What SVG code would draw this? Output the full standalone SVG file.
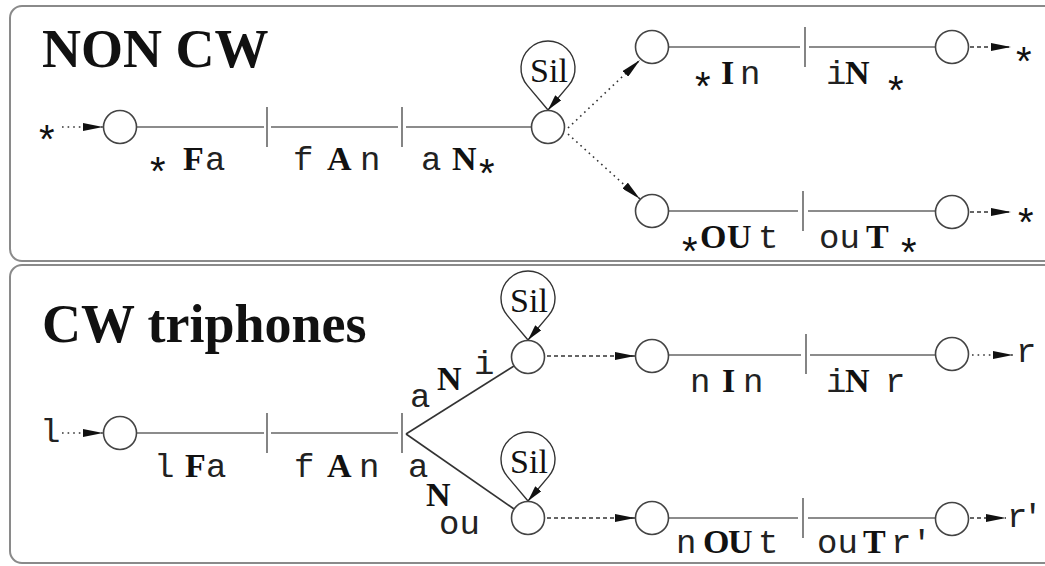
<svg xmlns="http://www.w3.org/2000/svg" width="1045" height="566" viewBox="0 0 1045 566">
<style>
.box{fill:none;stroke:#8a8a8a;stroke-width:2}
.ln{stroke:#666;stroke-width:1.6;fill:none}
.br{stroke:#333;stroke-width:1.6;fill:none}
.nd{fill:#fff;stroke:#444;stroke-width:1.6}
.dot{stroke:#333;stroke-width:1.6;stroke-dasharray:1.6 4;fill:none}
.dash{stroke:#333;stroke-width:1.6;stroke-dasharray:4 3;fill:none}
.loop{stroke:#333;stroke-width:1.4;fill:none}
.title{font-family:"Liberation Serif",serif;font-weight:bold;font-size:54px;fill:#111}
.tt{font-family:"Liberation Mono",monospace;font-size:34px;fill:#222}
.bf{font-family:"Liberation Serif",serif;font-weight:bold;font-size:34px;fill:#111}
.ast{font-family:"Liberation Sans",sans-serif;font-size:40px;fill:#111}
.sil{font-family:"Liberation Serif",serif;font-size:34px;fill:#111;text-anchor:middle}
</style>
<defs>
<marker id="ah" viewBox="0 0 20 8" markerWidth="20" markerHeight="8" refX="20" refY="4" orient="auto" markerUnits="userSpaceOnUse">
<path d="M0,0 L20,4 L0,8 z" fill="#111"/>
</marker>
<marker id="ahs" viewBox="0 0 16 8" markerWidth="16" markerHeight="8" refX="16" refY="4" orient="auto" markerUnits="userSpaceOnUse">
<path d="M0,0 L16,4 L0,8 z" fill="#111"/>
</marker>
</defs>

<g id="frames">
<rect class="box" x="10" y="6" width="1060" height="255" rx="12"/>
<rect class="box" x="10" y="265" width="1060" height="298" rx="12"/>
<text class="title" x="42" y="67">NON CW</text>
<text class="title" x="42" y="342">CW triphones</text>
</g>

<g id="connectors">
<line class="dot" x1="62" y1="127" x2="103" y2="127" marker-end="url(#ah)"/>
<line class="ln" x1="137" y1="127" x2="264" y2="127"/>
<line class="ln" x1="267" y1="107" x2="267" y2="147"/>
<line class="ln" x1="271" y1="127" x2="398" y2="127"/>
<line class="ln" x1="402" y1="107" x2="402" y2="147"/>
<line class="ln" x1="406" y1="127" x2="531" y2="127"/>
<line class="dot" x1="568" y1="128" x2="640" y2="60" marker-end="url(#ah)"/>
<line class="dot" x1="568" y1="134" x2="640" y2="199" marker-end="url(#ah)"/>
<line class="ln" x1="669" y1="47" x2="800" y2="47"/>
<line class="ln" x1="805" y1="27" x2="805" y2="67"/>
<line class="ln" x1="809" y1="47" x2="935" y2="47"/>
<line class="dash" x1="970" y1="47" x2="1011" y2="47" marker-end="url(#ah)"/>
<line class="ln" x1="669" y1="211" x2="798" y2="211"/>
<line class="ln" x1="803" y1="191" x2="803" y2="231"/>
<line class="ln" x1="808" y1="211" x2="935" y2="211"/>
<line class="dash" x1="970" y1="212" x2="1011" y2="212" marker-end="url(#ah)"/>
<line class="dot" x1="62" y1="433" x2="103" y2="433" marker-end="url(#ah)"/>
<line class="ln" x1="137" y1="433" x2="264" y2="433"/>
<line class="ln" x1="267" y1="413" x2="267" y2="453"/>
<line class="ln" x1="271" y1="433" x2="398" y2="433"/>
<line class="ln" x1="402" y1="413" x2="402" y2="453"/>
<line class="br" x1="406" y1="434" x2="514" y2="366"/>
<line class="br" x1="406" y1="434" x2="514" y2="509"/>
<line class="dash" x1="547" y1="356" x2="635" y2="356" marker-end="url(#ah)"/>
<line class="dash" x1="547" y1="518" x2="635" y2="518" marker-end="url(#ah)"/>
<line class="ln" x1="669" y1="355" x2="801" y2="355"/>
<line class="ln" x1="806" y1="334" x2="806" y2="374"/>
<line class="ln" x1="810" y1="355" x2="935" y2="355"/>
<line class="dot" x1="972" y1="355" x2="1013" y2="355" marker-end="url(#ah)"/>
<line class="ln" x1="669" y1="518" x2="798" y2="518"/>
<line class="ln" x1="803" y1="498" x2="803" y2="538"/>
<line class="ln" x1="808" y1="518" x2="935" y2="518"/>
<line class="dash" x1="970" y1="518" x2="1006" y2="518" marker-end="url(#ah)"/>
<path class="loop" d="M548,110 L527.3,85.4 A27,27 0 1 1 568.7,85.4 L548,110" marker-end="url(#ahs)"/>
<path class="loop" d="M528,340 L507.3,315.4 A27,27 0 1 1 548.7,315.4 L528,340" marker-end="url(#ahs)"/>
<path class="loop" d="M528,501 L507.3,476.4 A27,27 0 1 1 548.7,476.4 L528,501" marker-end="url(#ahs)"/>
</g>

<g id="n-top-start"><circle class="nd" cx="120" cy="127" r="16.5"/><text class="ast" x="39" y="153">*</text></g>
<g id="n-top-sil"><circle class="nd" cx="548" cy="127" r="16.5"/><text class="sil" x="549" y="82">Sil</text></g>
<g id="n-top-up1"><circle class="nd" cx="652" cy="47" r="16.5"/></g>
<g id="n-top-up2"><circle class="nd" cx="952" cy="47" r="16.5"/><text class="ast" x="1016" y="75">*</text></g>
<g id="n-top-lo1"><circle class="nd" cx="652" cy="211" r="16.5"/></g>
<g id="n-top-lo2"><circle class="nd" cx="952" cy="212" r="16.5"/><text class="ast" x="1018" y="236">*</text></g>

<g id="labels-top">
<text class="ast" x="150" y="185">*</text><text class="bf" x="183" y="170">F</text><text class="tt" x="205" y="170">a</text>
<text class="tt" x="293" y="170">f</text><text class="bf" x="327" y="170">A</text><text class="tt" x="360" y="170">n</text>
<text class="tt" x="421" y="170">a</text><text class="bf" x="452" y="170">N</text><text class="ast" x="479" y="187">*</text>
<text class="ast" x="695" y="100">*</text><text class="bf" x="721" y="84">I</text><text class="tt" x="740" y="84">n</text>
<text class="tt" x="826" y="84">i</text><text class="bf" x="845" y="84">N</text><text class="ast" x="888" y="104">*</text>
<text class="ast" x="682" y="265">*</text><text class="bf" x="700" y="248">O</text><text class="bf" x="727" y="248">U</text><text class="tt" x="758" y="248">t</text>
<text class="tt" x="819" y="248">ou</text><text class="bf" x="866" y="248">T</text><text class="ast" x="901" y="266">*</text>
</g>

<g id="n-bot-start"><circle class="nd" cx="120" cy="433" r="16.5"/><text class="tt" x="40" y="442">l</text></g>
<g id="n-bot-sil1"><circle class="nd" cx="528" cy="357" r="16.5"/><text class="sil" x="529" y="312">Sil</text></g>
<g id="n-bot-sil2"><circle class="nd" cx="528" cy="518" r="16.5"/><text class="sil" x="529" y="473">Sil</text></g>
<g id="n-bot-up1"><circle class="nd" cx="652" cy="356" r="16.5"/></g>
<g id="n-bot-up2"><circle class="nd" cx="952" cy="354" r="16.5"/><text class="tt" x="1016" y="362">r</text></g>
<g id="n-bot-lo1"><circle class="nd" cx="652" cy="518" r="16.5"/></g>
<g id="n-bot-lo2"><circle class="nd" cx="952" cy="519" r="16.5"/><text class="tt" x="1007" y="527" letter-spacing="-5">r'</text></g>

<g id="labels-bottom">
<text class="tt" x="154" y="477">l</text><text class="bf" x="185" y="477">F</text><text class="tt" x="206" y="477">a</text>
<text class="tt" x="294" y="477">f</text><text class="bf" x="327" y="477">A</text><text class="tt" x="359" y="477">n</text>
<text class="tt" x="410" y="407">a</text><text class="bf" x="437" y="390">N</text><text class="tt" x="474" y="374">i</text>
<text class="tt" x="408" y="477">a</text><text class="bf" x="426" y="506">N</text><text class="tt" x="439" y="534">ou</text>
<text class="tt" x="690" y="392">n</text><text class="bf" x="722" y="392">I</text><text class="tt" x="743" y="392">n</text>
<text class="tt" x="826" y="392">i</text><text class="bf" x="845" y="392">N</text><text class="tt" x="885" y="392">r</text>
<text class="tt" x="676" y="553">n</text><text class="bf" x="703" y="553">O</text><text class="bf" x="728" y="553">U</text><text class="tt" x="758" y="553">t</text>
<text class="tt" x="817" y="553">ou</text><text class="bf" x="863" y="553">T</text><text class="tt" x="891" y="553">r'</text>
</g>
</svg>
